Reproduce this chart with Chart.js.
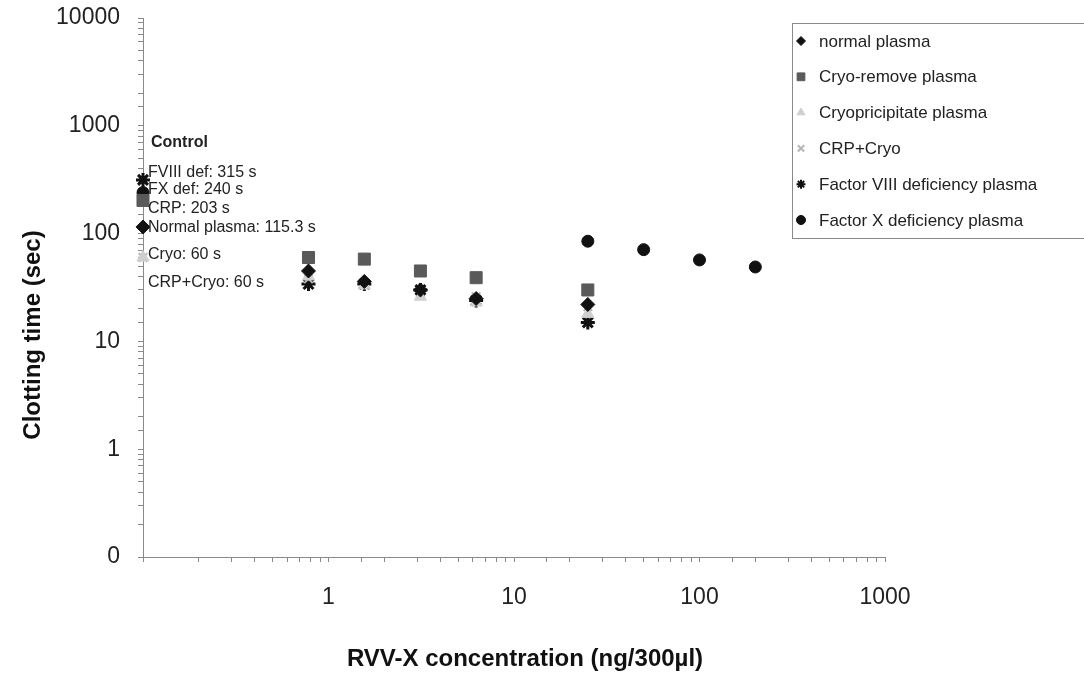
<!DOCTYPE html>
<html>
<head>
<meta charset="utf-8">
<script src="https://cdn.jsdelivr.net/npm/chart.js@4/dist/chart.umd.min.js"></script>
<style>
  html, body { margin: 0; padding: 0; background: #fff; }
  #wrap { width: 1084px; height: 685px; }
</style>
</head>
<body>
<div id="wrap"><canvas id="chart" width="1084" height="685"></canvas></div>
<script>
// Clotting time vs RVV-X concentration (log-log)

const controlX = 0.1;
const concentrations = [0.78, 1.56, 3.13, 6.25, 25];
const fxConcentrations = [25, 50, 100, 200];

// control values (seconds)
const controlNormal = 115.3;
const controlCryoRemove = 203;
const controlCryo = 60;
const controlCrpCryo = 60;
const controlF8 = 315;
const controlFX = 240;

const normalPlasma = [45, 36, 30, 25, 22];
const cryoRemovePlasma = [60, 58, 45, 39, 30];
const cryoPrecipPlasma = [40, 33, 26, 23, 18];
const crpCryo = [38, 35, 28, 26, 21];
const factor8Def = [34, 34, 30, 24, 15];
const factorXDef = [85, 71, 57, 49];

const yTicks = [0.1, 1, 10, 100, 1000, 10000];
const yTickLabels = ['0', '1', '10', '100', '1000', '10000'];
const xTicks = [1, 10, 100, 1000];
const xTickLabels = ['1', '10', '100', '1000'];

const seriesNames = ['normal plasma', 'Cryo-remove plasma', 'Cryopricipitate plasma', 'CRP+Cryo',
  'Factor VIII deficiency plasma', 'Factor X deficiency plasma'];

const controlLabels = ['FVIII def: 315 s', 'FX def: 240 s', 'CRP: 203 s', 'Normal plasma: 115.3 s', 'Cryo: 60 s', 'CRP+Cryo: 60 s'];
const controlLabelY = [367, 256, 170, 113, 64, 35];

function pts(xs, ys, cx, cy) {
  const out = [{ x: cx, y: cy }];
  xs.forEach((x, i) => out.push({ x: x, y: ys[i] }));
  return out;
}

const FONT = 'Liberation Sans, Arial, sans-serif';

const datasets = [
  { label: seriesNames[0], data: pts(concentrations, normalPlasma, controlX, controlNormal),
    pointStyle: 'rectRot', pointRadius: 7, backgroundColor: '#111', borderColor: '#111' },
  { label: seriesNames[1], data: pts(concentrations, cryoRemovePlasma, controlX, controlCryoRemove),
    pointStyle: 'rect', pointRadius: 8.5, backgroundColor: '#5a5a5a', borderColor: '#5a5a5a' },
  { label: seriesNames[2], data: pts(concentrations, cryoPrecipPlasma, controlX, controlCryo),
    pointStyle: 'triangle', pointRadius: 7, backgroundColor: '#cfcfcf', borderColor: '#cfcfcf' },
  { label: seriesNames[3], data: pts(concentrations, crpCryo, controlX, controlCrpCryo),
    pointStyle: 'crossRot', pointRadius: 6, borderWidth: 2, backgroundColor: '#b5b5b5', borderColor: '#b5b5b5' },
  { label: seriesNames[4], data: pts(concentrations, factor8Def, controlX, controlF8),
    pointStyle: 'star', pointRadius: 7, borderWidth: 3, backgroundColor: '#111', borderColor: '#111' },
  { label: seriesNames[5], data: pts(fxConcentrations, factorXDef, controlX, controlFX),
    pointStyle: 'circle', pointRadius: 6, backgroundColor: '#111', borderColor: '#111' }
];
datasets.forEach(d => { d.clip = false; });

const decorPlugin = {
  id: 'decor',
  afterDraw(chart) {
    const ctx = chart.ctx;
    const xs = chart.scales.x, ys = chart.scales.y;
    ctx.save();
    // axis titles
    ctx.fillStyle = '#111';
    ctx.font = 'bold 24px ' + FONT;
    ctx.textAlign = 'center';
    ctx.textBaseline = 'middle';
    ctx.fillText('RVV-X concentration (ng/300\u00b5l)', 525, 659);
    ctx.save();
    ctx.translate(33, 335);
    ctx.rotate(-Math.PI / 2);
    ctx.fillText('Clotting time (sec)', 0, 0);
    ctx.restore();

    // control annotations
    const lx = xs.getPixelForValue(controlX) + 5;
    ctx.textAlign = 'left';
    ctx.font = 'bold 16px ' + FONT;
    ctx.fillStyle = '#222';
    ctx.fillText('Control', lx + 3, ys.getPixelForValue(698));
    ctx.font = '16px ' + FONT;
    controlLabels.forEach((t, i) => {
      ctx.fillText(t, lx, ys.getPixelForValue(controlLabelY[i]));
    });

    // legend box and text
    const bx = 792, by = 23, bh = 215;
    ctx.fillStyle = '#fff';
    ctx.fillRect(bx, by, 1084 - bx + 5, bh);
    ctx.strokeStyle = '#8a8a8a';
    ctx.lineWidth = 1;
    ctx.strokeRect(bx + 0.5, by + 0.5, 1084 - bx + 5, bh);
    ctx.font = '17px ' + FONT;
    ctx.fillStyle = '#222';
    datasets.forEach((d, i) => {
      const cy = 41 + i * 35.8;
      ctx.fillText(d.label, 819, cy + 1);
    });

    // legend markers
    datasets.forEach((d, i) => {
      const cy = 41 + i * 35.8;
      ctx.fillStyle = d.backgroundColor;
      ctx.strokeStyle = d.borderColor;
      ctx.lineWidth = d.pointStyle === 'star' ? 2 : (d.borderWidth || 1);
      const r = d.pointStyle === 'rect' ? 5.5 : 4.5;
      Chart.helpers.drawPoint(ctx, {
        pointStyle: d.pointStyle, radius: r, rotation: 0,
        borderWidth: ctx.lineWidth
      }, 801, cy);
    });
    ctx.restore();
  }
};

const chart = new Chart(document.getElementById('chart'), {
  type: 'scatter',
  data: { datasets: datasets },
  options: {
    responsive: false,
    animation: false,
    devicePixelRatio: 1,
    layout: { padding: { left: 0, top: 18, right: 199, bottom: 0 } },
    plugins: { legend: { display: false }, tooltip: { enabled: false } },
    scales: {
      x: {
        type: 'logarithmic',
        min: 0.1, max: 1000,
        afterFit: s => { s.height = 128; s.paddingLeft = 0; s.paddingRight = 0; },
        border: { color: '#8a8a8a', width: 1 },
        grid: { drawOnChartArea: false, tickLength: 5, color: '#8a8a8a' },
        ticks: {
          autoSkip: false, maxRotation: 0, padding: 22, color: '#222',
          font: { family: FONT, size: 23 },
          callback: v => { const k = xTicks.indexOf(v); return k >= 0 ? xTickLabels[k] : ''; }
        }
      },
      y: {
        type: 'logarithmic',
        min: 0.1, max: 10000,
        afterFit: s => { s.width = 143; s.paddingTop = 0; s.paddingBottom = 0; },
        border: { color: '#8a8a8a', width: 1 },
        grid: { drawOnChartArea: false, tickLength: 5, color: '#8a8a8a' },
        ticks: {
          autoSkip: false, padding: 18, color: '#222',
          font: { family: FONT, size: 23 },
          callback: v => {
            const k = yTicks.findIndex(t => Math.abs(t - v) / t < 1e-6);
            return k >= 0 ? yTickLabels[k] : '';
          }
        }
      }
    }
  }
  ,plugins: [decorPlugin]
});
</script>
</body>
</html>
